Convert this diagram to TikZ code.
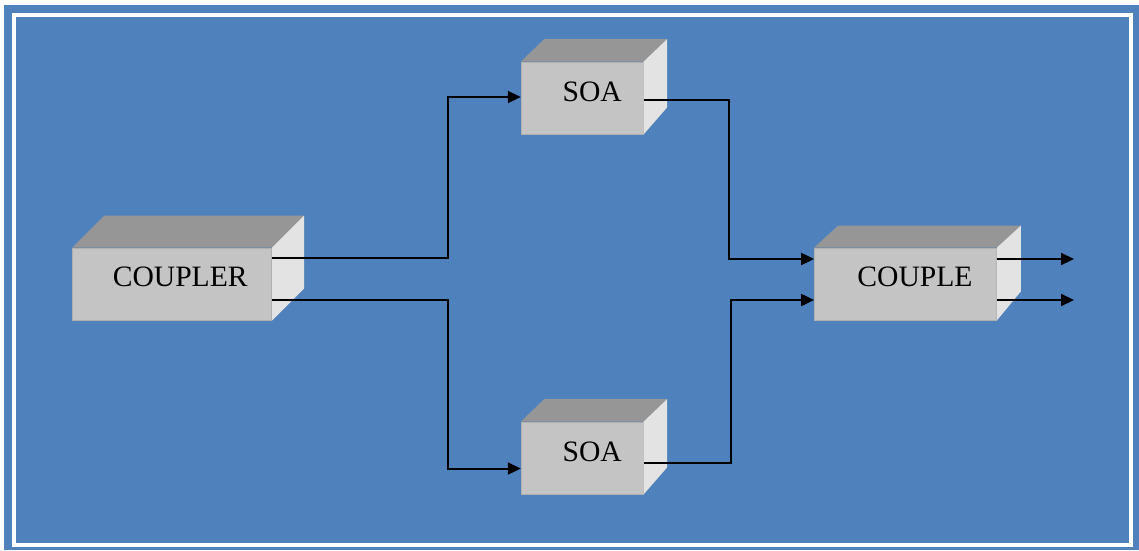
\documentclass[tikz,border=0pt]{standalone}
\usepackage{fontspec}
\setmainfont{Liberation Serif}
\usetikzlibrary{arrows.meta}
\definecolor{bgblue}{HTML}{4F81BD}
\definecolor{facefront}{HTML}{C4C4C4}
\definecolor{facetop}{HTML}{969696}
\definecolor{faceside}{HTML}{E3E3E3}
\definecolor{faceedge}{HTML}{B0B0B0}
\newcommand{\boxdepth}[4]{%
  \fill[facetop] (#1.north west) -- ++(#2,-#3) -- ([shift={(#2,-#3)}]#1.north east) -- (#1.north east) -- cycle;
  \fill[faceside] (#1.north east) -- ++(#2,-#3) -- ([shift={(#2,-#4)}]#1.south east) -- (#1.south east) -- cycle;
}
\begin{document}
\begin{tikzpicture}[x=1pt,y=-1pt,
  facebox/.style={rectangle, fill=facefront, draw=faceedge, line width=0.8pt, minimum height=72pt, inner sep=0pt},
  boxlabel/.style={font=\fontsize{29.6}{34}\selectfont, inner sep=0pt},
  wire/.style={line width=2pt, line join=miter},
  arrowwire/.style={wire, -{Triangle[length=13pt,width=12pt]}}]
\useasboundingbox (0,0) rectangle (1139,550);
\fill[bgblue] (4,5) rectangle (1139,550);
\draw[white, line width=4pt] (14,15) rectangle (1131,544.5);

\node[facebox, minimum width=199pt, label={[boxlabel, xshift=8pt, yshift=7pt]center:COUPLER}] (coupler) at (172.2,284) {};
\boxdepth{coupler}{32}{32}{32}
\node[facebox, minimum width=122pt, label={[boxlabel, xshift=10pt, yshift=6pt]center:SOA}] (soa1) at (582.2,98) {};
\boxdepth{soa1}{23.5}{22.5}{27}
\node[facebox, minimum width=122pt, label={[boxlabel, xshift=10pt, yshift=6pt]center:SOA}] (soa2) at (582.2,458) {};
\boxdepth{soa2}{23.5}{22.5}{27}
\node[facebox, minimum width=182pt, label={[boxlabel, xshift=9.5pt, yshift=7pt]center:COUPLE}] (couple) at (905.5,284) {};
\boxdepth{couple}{24}{22}{29}

\coordinate (out1) at (1074,259);
\coordinate (out2) at (1074,300);

\draw[arrowwire] ([yshift=26pt]coupler.east) -- ++(176,0) |- ([yshift=1pt]soa1.west);
\draw[arrowwire] ([yshift=-16pt]coupler.east) -- ++(176,0) |- ([yshift=-10.5pt]soa2.west);
\draw[arrowwire] ([yshift=-2pt]soa1.east) -- ++(85,0) |- ([yshift=25pt]couple.west);
\draw[arrowwire] ([yshift=-5pt]soa2.east) -- ++(87,0) |- ([yshift=-16pt]couple.west);
\draw[arrowwire] ([yshift=25pt]couple.east) -- (out1);
\draw[arrowwire] ([yshift=-16pt]couple.east) -- (out2);
\end{tikzpicture}
\end{document}
